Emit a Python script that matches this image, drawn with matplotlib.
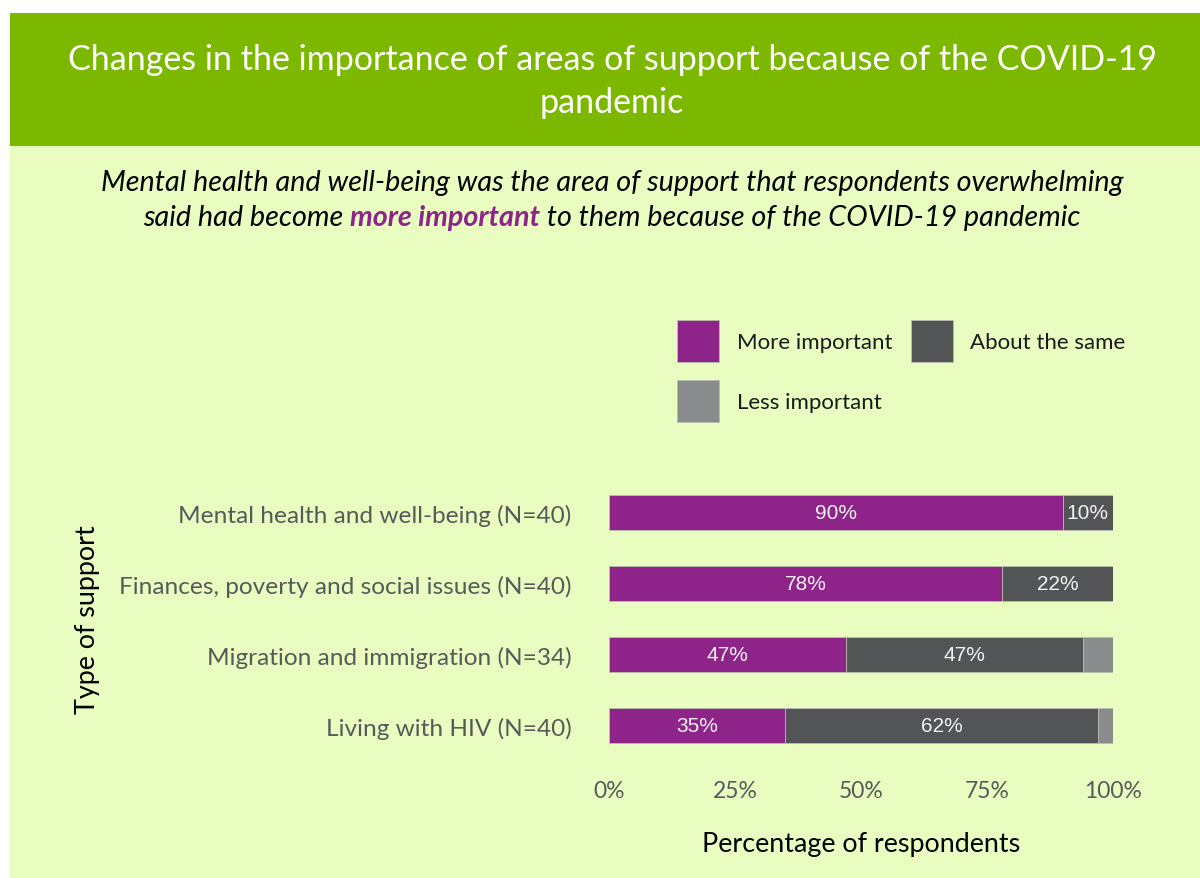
import matplotlib.pyplot as plt
import matplotlib.patches as patches
import numpy as np

# survey results, percentage of respondents
categories = ["Mental health and well-being (N=40)",
              "Finances, poverty and social issues (N=40)",
              "Migration and immigration (N=34)",
              "Living with HIV (N=40)"]
more_important = [90, 78, 47, 35]
about_same = [10, 22, 47, 62]
less_important = [0, 0, 6, 3]
series_names = ["More important", "About the same", "Less important"]
series_colors = ["#8e2489", "#535456", "#898b8c"]
x_ticks = [0, 25, 50, 75, 100]

title = "Changes in the importance of areas of support because of the COVID-19\npandemic"
sub_line1 = [("Mental health and well-being was the area of support that respondents overwhelming", "normal", "black")]
sub_line2 = [("said had become ", "normal", "black"),
             ("more important", "bold", "#8e2489"),
             (" to them because of the COVID-19 pandemic", "normal", "black")]

FONT = "Lato"
W, H = 1200, 879
fig = plt.figure(figsize=(W / 100, H / 100), dpi=100)
fig.patch.set_facecolor("white")

# background panel + header band (behind the axes)
fig.add_artist(patches.Rectangle((10 / W, 0), 1 - 10 / W, 1 - 14 / H, zorder=-10,
                                 transform=fig.transFigure, facecolor="#e9fdc1", edgecolor="none"))
fig.add_artist(patches.Rectangle((10 / W, 1 - 147 / H), 1 - 10 / W, 133 / H, zorder=-9,
                                 transform=fig.transFigure, facecolor="#7cb800", edgecolor="none"))
fig.text(612 / W, 1 - 81.5 / H, title, ha="center", va="center", color="white",
         fontsize=24.5, family=FONT, linespacing=1.45)

# subtitle with mixed styles, each line centered
renderer = fig.canvas.get_renderer()
for line, yc in [(sub_line1, 183), (sub_line2, 218)]:
    texts = []
    for s, weight, color in line:
        t = fig.text(0, 1 - yc / H, s, ha="left", va="center", style="italic",
                     weight=weight, color=color, fontsize=20.7, family=FONT)
        texts.append(t)
    widths = [t.get_window_extent(renderer).width for t in texts]
    x = 612 - sum(widths) / 2
    for t, w in zip(texts, widths):
        t.set_x(x / W)
        x += w

ax = fig.add_axes([609 / W, 1 - 762 / H, 504 / W, 284 / H])
ax.set_facecolor("none")

y = np.arange(len(categories))
left = np.zeros(len(categories))
for vals, name, color in zip([more_important, about_same, less_important], series_names, series_colors):
    vals = np.array(vals, dtype=float)
    bars = ax.barh(y, vals, left=left, height=0.507, color=color, label=name,
                   edgecolor="#b9bcae", linewidth=0.6)
    for b, v in zip(bars, vals):
        if v >= 10:
            ax.text(b.get_x() + b.get_width() / 2, b.get_y() + b.get_height() / 2, f"{v:.0f}%",
                    ha="center", va="center", color="#f2f2f2", fontsize=15, family="Liberation Sans")
    left += vals

ax.set_xlim(0, 100)
ax.set_ylim(len(categories) - 0.5, -0.5)
ax.set_yticks(y)
ax.set_yticklabels(categories, family=FONT, fontsize=17.6, color="#595959")
ax.set_xticks(x_ticks)
ax.set_xticklabels([f"{t}%" for t in x_ticks], family=FONT, fontsize=16.5, color="#595959")
ax.tick_params(axis="y", length=0, pad=27)
ax.tick_params(axis="x", length=0, pad=14)
for s in ax.spines.values():
    s.set_visible(False)

ax.set_xlabel("Percentage of respondents", family=FONT, fontsize=19.4, color="black", labelpad=21)
fig.text(88 / W, 1 - 620 / H, "Type of support", rotation=90, ha="center", va="center",
         family=FONT, fontsize=19.4, color="black")

# legend laid out row-wise: More / About on first row, Less below
handles, labels = ax.get_legend_handles_labels()
order = [0, 2, 1]
leg = fig.legend([handles[i] for i in order], [labels[i] for i in order], ncol=2,
                 loc="upper left", bbox_to_anchor=(677 / W, 1 - 321 / H), frameon=False,
                 borderpad=0, borderaxespad=0, handlelength=1.89, handleheight=2.5,
                 handletextpad=0.81, columnspacing=0.81, labelspacing=0.85,
                 prop={"family": FONT, "size": 16})
for t in leg.get_texts():
    t.set_color("#1a1a1a")

fig.savefig("out.png", dpi=100, facecolor=fig.get_facecolor())
